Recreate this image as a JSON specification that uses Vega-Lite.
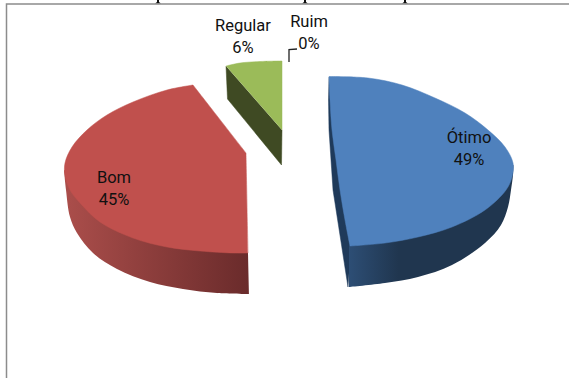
{
  "$schema": "https://vega.github.io/schema/vega-lite/v6.json",
  "autosize": {"type": "none"},
  "width": 569,
  "height": 378,
  "padding": 0,
  "background": "white",
  "view": {"stroke": null},
  "config": {"style": {"cell": {"stroke": null}}},
  "datasets": {
    "outlines": [
      {"part": "frame", "seq": 1, "x": 6.5, "y": 378},
      {"part": "frame", "seq": 2, "x": 6.5, "y": 4},
      {"part": "frame", "seq": 3, "x": 569, "y": 4},

      {"part": "otimoEdge", "seq": 1, "x": 329, "y": 77},
      {"part": "otimoEdge", "seq": 2, "x": 328.5, "y": 100},
      {"part": "otimoEdge", "seq": 3, "x": 329, "y": 130},
      {"part": "otimoEdge", "seq": 4, "x": 331, "y": 160},
      {"part": "otimoEdge", "seq": 5, "x": 333, "y": 190},
      {"part": "otimoEdge", "seq": 6, "x": 348, "y": 287},
      {"part": "otimoEdge", "seq": 7, "x": 351, "y": 246},

      {"part": "otimoWall", "seq": 1, "x": 349, "y": 246},
      {"part": "otimoWall", "seq": 2, "x": 349, "y": 246},
      {"part": "otimoWall", "seq": 3, "x": 513.5, "y": 165},
      {"part": "otimoWall", "seq": 4, "x": 513.5, "y": 165},
      {"part": "otimoWall", "seq": 5, "x": 513, "y": 175},
      {"part": "otimoWall", "seq": 6, "x": 511, "y": 190},
      {"part": "otimoWall", "seq": 7, "x": 508, "y": 207},
      {"part": "otimoWall", "seq": 8, "x": 501, "y": 225},
      {"part": "otimoWall", "seq": 9, "x": 485, "y": 243},
      {"part": "otimoWall", "seq": 10, "x": 452, "y": 265},
      {"part": "otimoWall", "seq": 11, "x": 418, "y": 277},
      {"part": "otimoWall", "seq": 12, "x": 385, "y": 283},
      {"part": "otimoWall", "seq": 13, "x": 349, "y": 287},

      {"part": "otimoTop", "seq": 1, "x": 329, "y": 76.5},
      {"part": "otimoTop", "seq": 2, "x": 368, "y": 78},
      {"part": "otimoTop", "seq": 3, "x": 402, "y": 85},
      {"part": "otimoTop", "seq": 4, "x": 435, "y": 98},
      {"part": "otimoTop", "seq": 5, "x": 465, "y": 113},
      {"part": "otimoTop", "seq": 6, "x": 488, "y": 130},
      {"part": "otimoTop", "seq": 7, "x": 505, "y": 147},
      {"part": "otimoTop", "seq": 8, "x": 513, "y": 163},
      {"part": "otimoTop", "seq": 9, "x": 512, "y": 177},
      {"part": "otimoTop", "seq": 10, "x": 506, "y": 190},
      {"part": "otimoTop", "seq": 11, "x": 485, "y": 210},
      {"part": "otimoTop", "seq": 12, "x": 452, "y": 227},
      {"part": "otimoTop", "seq": 13, "x": 418, "y": 237},
      {"part": "otimoTop", "seq": 14, "x": 385, "y": 243},
      {"part": "otimoTop", "seq": 15, "x": 350, "y": 246},
      {"part": "otimoTop", "seq": 16, "x": 350, "y": 246},
      {"part": "otimoTop", "seq": 17, "x": 345, "y": 220},
      {"part": "otimoTop", "seq": 18, "x": 340, "y": 190},
      {"part": "otimoTop", "seq": 19, "x": 336, "y": 160},
      {"part": "otimoTop", "seq": 20, "x": 332, "y": 130},
      {"part": "otimoTop", "seq": 21, "x": 330, "y": 100},
      {"part": "otimoTop", "seq": 22, "x": 329, "y": 76.5},

      {"part": "bomWall", "seq": 1, "x": 64, "y": 170},
      {"part": "bomWall", "seq": 2, "x": 64, "y": 170},
      {"part": "bomWall", "seq": 3, "x": 248, "y": 253},
      {"part": "bomWall", "seq": 4, "x": 248, "y": 253},
      {"part": "bomWall", "seq": 5, "x": 249, "y": 294},
      {"part": "bomWall", "seq": 6, "x": 249, "y": 294},
      {"part": "bomWall", "seq": 7, "x": 217, "y": 293},
      {"part": "bomWall", "seq": 8, "x": 183, "y": 289},
      {"part": "bomWall", "seq": 9, "x": 150, "y": 282},
      {"part": "bomWall", "seq": 10, "x": 117, "y": 269},
      {"part": "bomWall", "seq": 11, "x": 93, "y": 253},
      {"part": "bomWall", "seq": 12, "x": 77, "y": 233},
      {"part": "bomWall", "seq": 13, "x": 70, "y": 217},
      {"part": "bomWall", "seq": 14, "x": 66, "y": 190},
      {"part": "bomWall", "seq": 15, "x": 64, "y": 170},

      {"part": "bomTop", "seq": 1, "x": 193, "y": 85},
      {"part": "bomTop", "seq": 2, "x": 167, "y": 90},
      {"part": "bomTop", "seq": 3, "x": 133, "y": 102},
      {"part": "bomTop", "seq": 4, "x": 107, "y": 115},
      {"part": "bomTop", "seq": 5, "x": 87, "y": 130},
      {"part": "bomTop", "seq": 6, "x": 72, "y": 147},
      {"part": "bomTop", "seq": 7, "x": 65, "y": 163},
      {"part": "bomTop", "seq": 8, "x": 65, "y": 175},
      {"part": "bomTop", "seq": 9, "x": 70, "y": 190},
      {"part": "bomTop", "seq": 10, "x": 81, "y": 204},
      {"part": "bomTop", "seq": 11, "x": 100, "y": 222},
      {"part": "bomTop", "seq": 12, "x": 133, "y": 238},
      {"part": "bomTop", "seq": 13, "x": 167, "y": 247},
      {"part": "bomTop", "seq": 14, "x": 200, "y": 251},
      {"part": "bomTop", "seq": 15, "x": 233, "y": 253},
      {"part": "bomTop", "seq": 16, "x": 248, "y": 253},
      {"part": "bomTop", "seq": 17, "x": 248, "y": 253},
      {"part": "bomTop", "seq": 18, "x": 246, "y": 153},
      {"part": "bomTop", "seq": 19, "x": 246, "y": 153},
      {"part": "bomTop", "seq": 20, "x": 193, "y": 85},

      {"part": "regularEdge", "seq": 1, "x": 226, "y": 66},
      {"part": "regularEdge", "seq": 2, "x": 227.5, "y": 99},
      {"part": "regularEdge", "seq": 3, "x": 281.5, "y": 165},
      {"part": "regularEdge", "seq": 4, "x": 282, "y": 130},

      {"part": "regularTop", "seq": 1, "x": 226, "y": 66},
      {"part": "regularTop", "seq": 2, "x": 240, "y": 63},
      {"part": "regularTop", "seq": 3, "x": 260, "y": 61.5},
      {"part": "regularTop", "seq": 4, "x": 282, "y": 61},
      {"part": "regularTop", "seq": 5, "x": 282, "y": 61},
      {"part": "regularTop", "seq": 6, "x": 282, "y": 130},

      {"part": "leader", "seq": 1, "x": 289, "y": 62},
      {"part": "leader", "seq": 2, "x": 289, "y": 49.5},
      {"part": "leader", "seq": 3, "x": 297, "y": 49},

      {"part": "stub", "stub": 1, "seq": 1, "x": 157, "y": 0},
      {"part": "stub", "stub": 1, "seq": 2, "x": 159, "y": 0},
      {"part": "stub", "stub": 1, "seq": 3, "x": 159, "y": 2},
      {"part": "stub", "stub": 1, "seq": 4, "x": 161, "y": 3.5},
      {"part": "stub", "stub": 1, "seq": 5, "x": 155, "y": 3.5},
      {"part": "stub", "stub": 1, "seq": 6, "x": 157, "y": 2},
      {"part": "stub", "stub": 2, "seq": 1, "x": 304, "y": 0},
      {"part": "stub", "stub": 2, "seq": 2, "x": 306, "y": 0},
      {"part": "stub", "stub": 2, "seq": 3, "x": 306, "y": 2},
      {"part": "stub", "stub": 2, "seq": 4, "x": 308, "y": 3.5},
      {"part": "stub", "stub": 2, "seq": 5, "x": 302, "y": 3.5},
      {"part": "stub", "stub": 2, "seq": 6, "x": 304, "y": 2},
      {"part": "stub", "stub": 3, "seq": 1, "x": 404, "y": 0},
      {"part": "stub", "stub": 3, "seq": 2, "x": 406, "y": 0},
      {"part": "stub", "stub": 3, "seq": 3, "x": 406, "y": 2},
      {"part": "stub", "stub": 3, "seq": 4, "x": 408, "y": 3.5},
      {"part": "stub", "stub": 3, "seq": 5, "x": 402, "y": 3.5},
      {"part": "stub", "stub": 3, "seq": 6, "x": 404, "y": 2}
    ],
    "shares": [
      {"categoria": "Ótimo", "share": 49, "label": "Ótimo\n49%", "x": 469, "y": 138},
      {"categoria": "Bom", "share": 45, "label": "Bom\n45%", "x": 114, "y": 178},
      {"categoria": "Regular", "share": 6, "label": "Regular\n6%", "x": 243, "y": 26},
      {"categoria": "Ruim", "share": 0, "label": "Ruim\n0%", "x": 309, "y": 22}
    ]
  },
  "data": {"name": "outlines"},
  "encoding": {
    "x": {"field": "x", "type": "quantitative", "scale": {"domain": [0, 569], "nice": false, "zero": false}, "axis": null},
    "y": {"field": "y", "type": "quantitative", "scale": {"domain": [378, 0], "nice": false, "zero": false}, "axis": null},
    "order": {"field": "seq", "type": "quantitative"}
  },
  "layer": [
    {
      "transform": [{"filter": "datum.part === 'stub'"}],
      "mark": {"type": "line", "fill": "#111111", "strokeWidth": 0},
      "encoding": {"detail": {"field": "stub", "type": "nominal"}}
    },
    {
      "transform": [{"filter": "datum.part === 'frame'"}],
      "mark": {"type": "line", "stroke": "#8c8c8c", "strokeWidth": 1.5, "clip": false}
    },
    {
      "transform": [{"filter": "datum.part === 'otimoEdge'"}],
      "mark": {"type": "line", "fill": "#1f3a5a", "stroke": "#1f3a5a", "strokeWidth": 0.5}
    },
    {
      "transform": [{"filter": "datum.part === 'otimoWall'"}],
      "mark": {
        "type": "line",
        "interpolate": "catmull-rom",
        "strokeWidth": 0,
        "fill": {
          "gradient": "linear", "x1": 0, "y1": 0, "x2": 1, "y2": 0,
          "stops": [
            {"offset": 0, "color": "#2d4e75"},
            {"offset": 0.3, "color": "#20364f"},
            {"offset": 1, "color": "#20364f"}
          ]
        }
      }
    },
    {
      "transform": [{"filter": "datum.part === 'otimoTop'"}],
      "mark": {"type": "line", "interpolate": "catmull-rom", "fill": "#4f81bd", "stroke": "#4f81bd", "strokeWidth": 0.5}
    },
    {
      "transform": [{"filter": "datum.part === 'bomWall'"}],
      "mark": {
        "type": "line",
        "interpolate": "catmull-rom",
        "strokeWidth": 0,
        "fill": {
          "gradient": "linear", "x1": 0, "y1": 0, "x2": 1, "y2": 0,
          "stops": [
            {"offset": 0, "color": "#ab4e4b"},
            {"offset": 1, "color": "#6a2b2b"}
          ]
        }
      }
    },
    {
      "transform": [{"filter": "datum.part === 'bomTop'"}],
      "mark": {"type": "line", "interpolate": "catmull-rom", "fill": "#c0504d", "stroke": "#c0504d", "strokeWidth": 0.5}
    },
    {
      "transform": [{"filter": "datum.part === 'regularEdge'"}],
      "mark": {"type": "line", "fill": "#3f4a23", "stroke": "#3f4a23", "strokeWidth": 0.5}
    },
    {
      "transform": [{"filter": "datum.part === 'regularTop'"}],
      "mark": {"type": "line", "interpolate": "catmull-rom", "fill": "#9bbb59", "stroke": "#9bbb59", "strokeWidth": 0.5}
    },
    {
      "transform": [{"filter": "datum.part === 'leader'"}],
      "mark": {"type": "line", "stroke": "#222222", "strokeWidth": 1.3}
    },
    {
      "data": {"name": "shares"},
      "mark": {"type": "text", "font": "Roboto", "fontSize": 16.5, "lineHeight": 21.5, "lineBreak": "\n", "align": "center", "baseline": "middle", "color": "#111111"},
      "encoding": {
        "text": {"field": "label", "type": "nominal"},
        "order": null
      }
    }
  ]
}
